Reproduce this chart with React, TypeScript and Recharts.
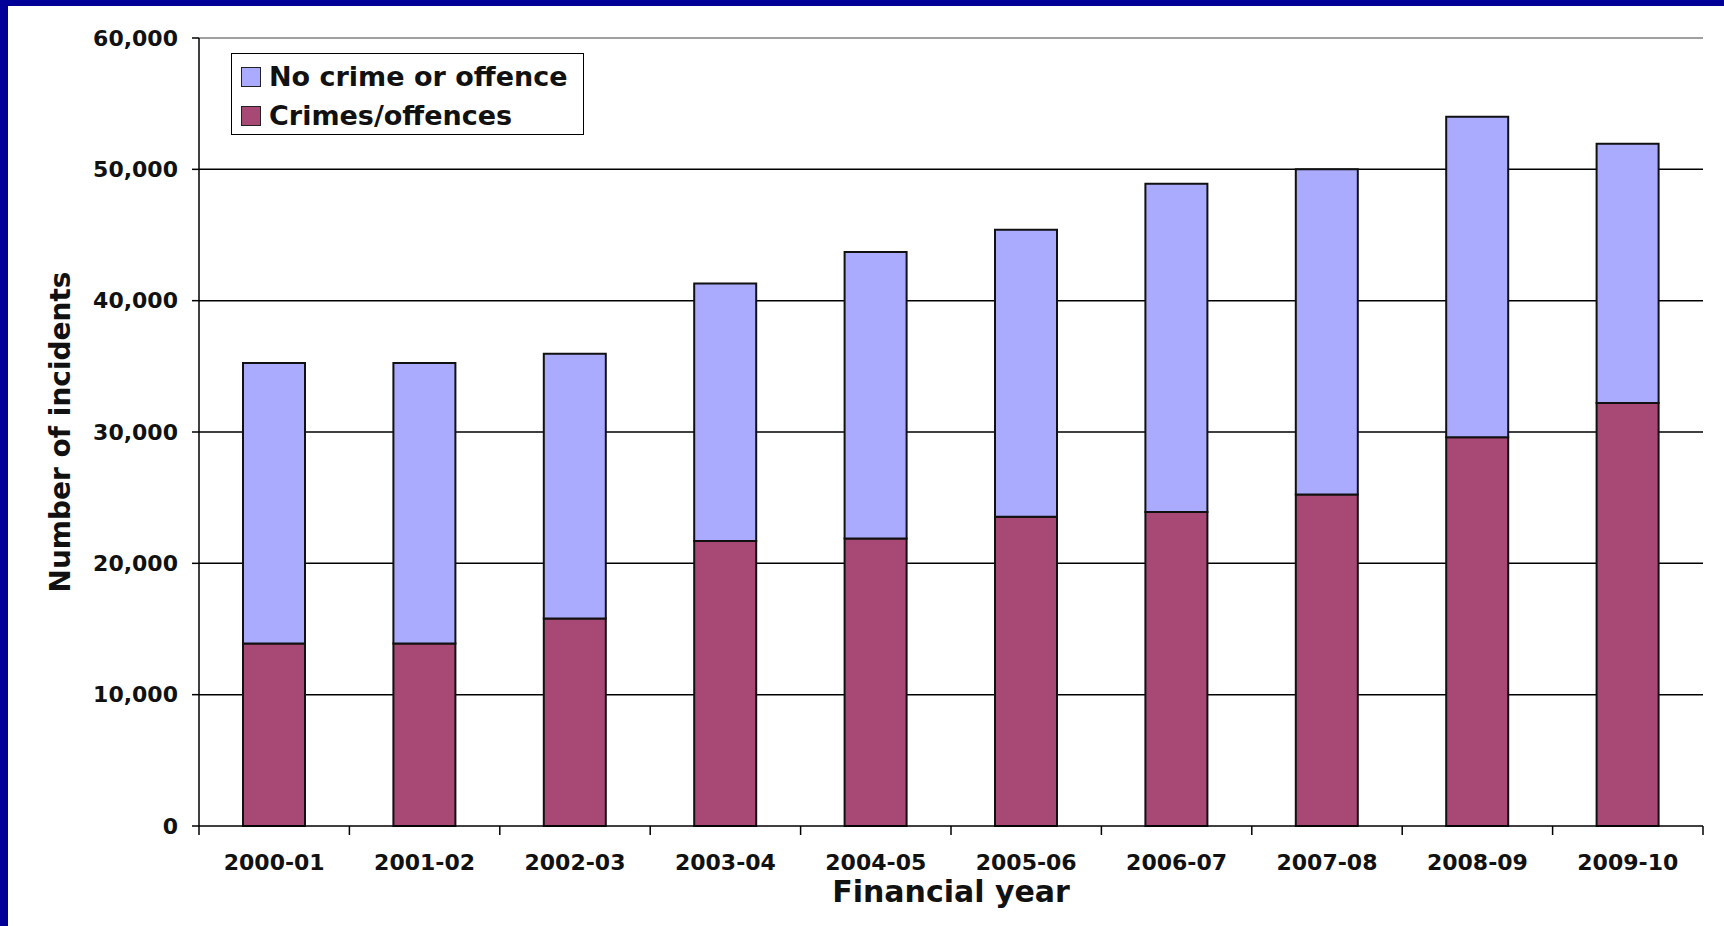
import React from 'react';
import { BarChart, Bar, XAxis, YAxis, CartesianGrid, Legend, ReferenceLine } from 'recharts';

const years = ['2000-01', '2001-02', '2002-03', '2003-04', '2004-05', '2005-06', '2006-07', '2007-08', '2008-09', '2009-10'];
const crimes = [13900, 13900, 15800, 21700, 21900, 23550, 23900, 25250, 29600, 32200];
const noCrime = [21350, 21350, 20150, 19600, 21800, 21850, 25000, 24750, 24400, 19750];
const yTicks = [0, 10000, 20000, 30000, 40000, 50000, 60000];

const data = years.map((y, i) => ({ year: y, crimes: crimes[i], noCrime: noCrime[i] }));

const FONT = '"DejaVu Sans", sans-serif';
const X_TICK_GAP = 28;

const renderLegend = () => (
    <div style={{ position: 'relative', width: 353, height: 82, border: '1.5px solid #000', background: '#fff', boxSizing: 'border-box', fontFamily: FONT, fontWeight: 'bold', fontSize: 27, color: '#111' }}>
        <div style={{ position: 'absolute', left: 9, top: 13, width: 20, height: 20, background: '#AAAAFF', border: '1.5px solid #222', boxSizing: 'border-box' }} />
        <div style={{ position: 'absolute', left: 37, top: 7, lineHeight: '32px', whiteSpace: 'nowrap' }}>No crime or offence</div>
        <div style={{ position: 'absolute', left: 9, top: 52, width: 20, height: 20, background: '#A84875', border: '1.5px solid #222', boxSizing: 'border-box' }} />
        <div style={{ position: 'absolute', left: 37, top: 46, lineHeight: '32px', whiteSpace: 'nowrap' }}>Crimes/offences</div>
    </div>
);

// year label plus the small downward ticks at the category boundaries
const YearTick = (props: any) => {
    const { x, y, payload, width, visibleTicksCount, index } = props;
    const band = width / visibleTicksCount;
    const axisY = y - X_TICK_GAP;
    const left = x - band / 2;
    return (
        <g>
            <line x1={left} x2={left} y1={axisY} y2={axisY + 9} stroke="#000" strokeWidth={1.5} />
            {index === visibleTicksCount - 1 && (
                <line x1={left + band} x2={left + band} y1={axisY} y2={axisY + 9} stroke="#000" strokeWidth={1.5} />
            )}
            <text x={x} y={y} dy="0.71em" textAnchor="middle" fill="#111" fontFamily={FONT} fontWeight="bold" fontSize={22}>
                {payload.value}
            </text>
        </g>
    );
};

const App: React.FC = () => {
    return (
        <div style={{ position: 'fixed', left: 0, top: 0, width: 1724, height: 926, background: '#000099' }}>
            <div style={{ position: 'absolute', left: 8, top: 6, width: 1716, height: 920, background: '#fff' }}>
                <BarChart width={1716} height={920} data={data} margin={{ top: 32, right: 21, left: 0, bottom: 0 }} barSize={62}>
                    <CartesianGrid xAxisId="cat" vertical={false} horizontalValues={[10000, 20000, 30000, 40000, 50000]} stroke="#000" strokeWidth={1.5} />
                    <XAxis xAxisId="edge" type="number" domain={[0, 10]} hide />
                    <XAxis xAxisId="cat" dataKey="year" height={100} tickLine={false} tickSize={0} tickMargin={X_TICK_GAP} interval={0}
                        axisLine={{ stroke: '#000', strokeWidth: 1.5 }}
                        tick={<YearTick />}
                        label={{
                            content: ({ viewBox }: any) => (
                                <text x={viewBox.x + viewBox.width / 2} y={viewBox.y + 76} textAnchor="middle"
                                    fontFamily={FONT} fontWeight="bold" fontSize={30} fill="#111">Financial year</text>
                            ),
                        }} />
                    <YAxis width={191} domain={[0, 60000]} ticks={yTicks} interval={0} tickSize={7} tickMargin={14}
                        tickFormatter={(v: number) => v.toLocaleString('en-US')}
                        axisLine={{ stroke: '#000', strokeWidth: 1.5 }} tickLine={{ stroke: '#000', strokeWidth: 1.5 }}
                        tick={{ fill: '#111', fontFamily: FONT, fontWeight: 'bold', fontSize: 22 }}
                        label={{
                            content: ({ viewBox }: any) => {
                                const cx = viewBox.x + 52;
                                const cy = viewBox.y + viewBox.height / 2;
                                return (
                                    <text x={cx} y={cy} transform={`rotate(-90 ${cx} ${cy})`} textAnchor="middle" dominantBaseline="central"
                                        fontFamily={FONT} fontWeight="bold" fontSize={28} fill="#111">Number of incidents</text>
                                );
                            },
                        }} />
                    <ReferenceLine xAxisId="cat" y={60000} stroke="#a0a0a0" strokeWidth={2} />
                    <ReferenceLine xAxisId="edge" x={10} stroke="#a0a0a0" strokeWidth={2} />
                    <Legend layout="vertical" align="center" verticalAlign="middle" content={renderLegend}
                        wrapperStyle={{ left: 223, top: 47, width: 353, height: 82 }} />
                    <Bar xAxisId="cat" dataKey="crimes" name="Crimes/offences" stackId="a" fill="#A84875" stroke="#111" strokeWidth={2} isAnimationActive={false} />
                    <Bar xAxisId="cat" dataKey="noCrime" name="No crime or offence" stackId="a" fill="#AAAAFF" stroke="#111" strokeWidth={2} isAnimationActive={false} />
                </BarChart>
            </div>
        </div>
    );
};

export default App;
